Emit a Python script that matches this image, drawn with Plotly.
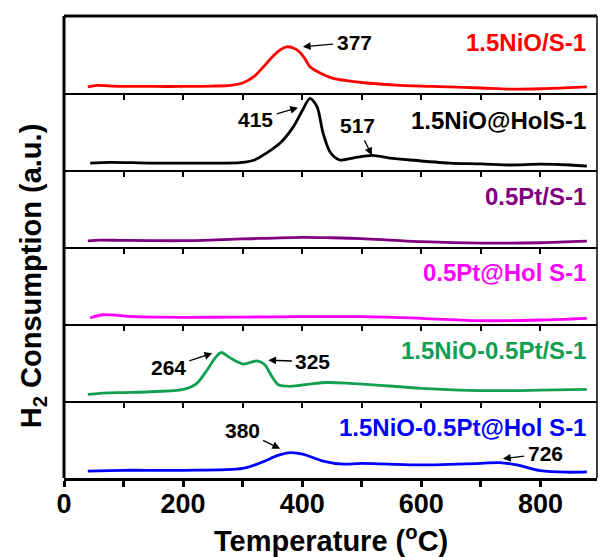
import plotly.graph_objects as go
from plotly.subplots import make_subplots

# ---------------- data ----------------
names = ["1.5NiO/S-1", "1.5NiO@HolS-1", "0.5Pt/S-1", "0.5Pt@Hol S-1",
         "1.5NiO-0.5Pt/S-1", "1.5NiO-0.5Pt@Hol S-1"]
colors = ["#ff0000", "#000000", "#800080", "#ff00ff", "#12a050", "#0000ff"]

t_nio_s1 = [40, 55, 80, 150, 200, 250, 280, 300, 320, 335, 350, 363, 374, 385, 396, 405,
            413, 430, 452, 480, 508, 564, 648, 700, 749, 800, 850, 878]
v_nio_s1 = [0.08, 0.10, 0.09, 0.085, 0.085, 0.09, 0.10, 0.13, 0.22, 0.34, 0.47, 0.56, 0.60,
            0.585, 0.53, 0.44, 0.34, 0.26, 0.19, 0.155, 0.13, 0.10, 0.08, 0.065, 0.05, 0.055,
            0.07, 0.08]

t_nio_hol = [44, 77, 144, 200, 250, 296, 320, 340, 363, 385, 400, 413, 425, 435, 447, 463,
             485, 517, 547, 581, 648, 700, 749, 800, 850, 878]
v_nio_hol = [0.09, 0.10, 0.09, 0.09, 0.09, 0.095, 0.13, 0.22, 0.35, 0.56, 0.77, 0.93, 0.82,
             0.48, 0.23, 0.13, 0.155, 0.19, 0.155, 0.13, 0.09, 0.08, 0.065, 0.075, 0.065, 0.05]

t_pt_s1 = [40, 60, 100, 200, 300, 400, 450, 500, 550, 600, 700, 800, 878]
v_pt_s1 = [0.08, 0.09, 0.085, 0.082, 0.105, 0.126, 0.12, 0.11, 0.09, 0.07, 0.05, 0.055, 0.075]

t_pt_hol = [44, 66, 116, 200, 300, 396, 500, 600, 700, 800, 878]
v_pt_hol = [0.08, 0.12, 0.095, 0.087, 0.09, 0.095, 0.095, 0.074, 0.043, 0.052, 0.074]

t_nipt_s1 = [40, 60, 100, 144, 200, 223, 240, 254, 264, 279, 301, 324, 337, 349, 360, 380,
             413, 441, 480, 520, 600, 700, 800, 878]
v_nipt_s1 = [0.087, 0.10, 0.11, 0.12, 0.15, 0.23, 0.40, 0.56, 0.63, 0.56, 0.48, 0.52, 0.47,
             0.32, 0.21, 0.19, 0.22, 0.24, 0.23, 0.21, 0.165, 0.135, 0.14, 0.15]

t_nipt_hol = [40, 100, 200, 300, 334, 358, 380, 401, 435, 469, 500, 600, 700, 732, 760, 800,
              844, 878]
v_nipt_hol = [0.09, 0.10, 0.10, 0.125, 0.21, 0.29, 0.33, 0.31, 0.22, 0.18, 0.19, 0.17, 0.19,
              0.20, 0.17, 0.095, 0.075, 0.08]

temps = [t_nio_s1, t_nio_hol, t_pt_s1, t_pt_hol, t_nipt_s1, t_nipt_hol]
values = [v_nio_s1, v_nio_hol, v_pt_s1, v_pt_hol, v_nipt_s1, v_nipt_hol]

label_y = [0.65, 0.64, 0.66, 0.675, 0.66, 0.66]
peak_text = ["377", "415", "517", "264", "325", "380", "726"]
peak_panel = [1, 2, 2, 5, 5, 6, 6]
peak_tx = [487, 322, 492, 175, 418, 299, 808]
peak_ty = [0.66, 0.65, 0.58, 0.43, 0.51, 0.62, 0.32]
arrow_head_x = [401, 393, 517, 249, 343, 363, 737]
arrow_head_y = [0.60, 0.81, 0.19, 0.62, 0.53, 0.38, 0.25]

major_ticks = [0, 200, 400, 600, 800]
tick_labels = ["0", "200", "400", "600", "800"]
inner_ticks = [100, 200, 300, 400, 500, 600, 700, 800]

# ---------------- figure ----------------
FONT = "Liberation Sans, Arial, sans-serif"
n = len(names)
fig = make_subplots(rows=n, cols=1, shared_xaxes=True, vertical_spacing=0)

for i in range(n):
    fig.add_trace(go.Scatter(x=temps[i], y=values[i], mode="lines",
                             line=dict(color=colors[i], width=2.8, shape="spline", smoothing=0.8),
                             name=names[i], showlegend=False), row=i + 1, col=1)
    last = (i == n - 1)
    if last:
        fig.update_xaxes(range=[0, 895], showline=True, linecolor="black", linewidth=3,
                         ticks="outside", tickvals=major_ticks, ticktext=tick_labels,
                         ticklen=6, tickwidth=2.5, tickcolor="black",
                         minor=dict(ticks="outside", dtick=100, tick0=0, ticklen=6,
                                    tickwidth=2.5, tickcolor="black", showgrid=False),
                         showticklabels=True, showgrid=False, zeroline=False,
                         ticklabelstandoff=-6,
                         tickfont=dict(family=FONT, size=27, color="black", weight="bold"),
                         row=i + 1, col=1)
    else:
        fig.update_xaxes(range=[0, 895], showline=True, linecolor="black", linewidth=1.5,
                         ticks="outside", tickvals=inner_ticks, ticklen=5, tickwidth=1.5,
                         tickcolor="black", showticklabels=False, showgrid=False,
                         zeroline=False, row=i + 1, col=1)
    fig.update_yaxes(range=[0, 1], showline=False, showticklabels=False, ticks="",
                     showgrid=False, zeroline=False, row=i + 1, col=1)
    fig.add_annotation(x=880, y=label_y[i], xref=f"x{i+1}" if i else "x",
                       yref=f"y{i+1}" if i else "y", text=names[i], showarrow=False,
                       xanchor="right", yanchor="middle",
                       font=dict(family=FONT, size=24, color=colors[i], weight="bold"))

for k in range(len(peak_text)):
    p = peak_panel[k]
    xr = "x" if p == 1 else f"x{p}"
    yr = "y" if p == 1 else f"y{p}"
    fig.add_annotation(x=arrow_head_x[k], y=arrow_head_y[k], xref=xr, yref=yr,
                       ax=peak_tx[k], ay=peak_ty[k], axref=xr, ayref=yr,
                       text=peak_text[k], showarrow=True, arrowhead=2, arrowsize=1.2,
                       arrowwidth=1.3, arrowcolor="black", borderpad=3,
                       font=dict(family=FONT, size=21, color="black", weight="bold"))

# axis titles
fig.add_annotation(x=-0.058, y=0.437, xref="paper", yref="paper",
                   text="H<sub>2</sub> Consumption (a.u.)", textangle=-90, showarrow=False,
                   xanchor="center", yanchor="middle",
                   font=dict(family=FONT, size=29, color="black", weight="bold"))
fig.add_annotation(x=0.501, y=-0.133, xref="paper", yref="paper",
                   text="Temperature (<sup>o</sup>C)", showarrow=False,
                   xanchor="center", yanchor="middle",
                   font=dict(family=FONT, size=29, color="black", weight="bold"))

# frame
fig.add_shape(type="line", xref="paper", yref="paper", x0=0, x1=0, y0=0, y1=1,
              line=dict(color="black", width=3))
fig.add_shape(type="line", xref="paper", yref="paper", x0=0, x1=1, y0=1, y1=1,
              line=dict(color="black", width=3))
fig.add_shape(type="line", xref="paper", yref="paper", x0=1, x1=1, y0=0, y1=1,
              line=dict(color="black", width=1.5))

fig.update_layout(width=600, height=557, margin=dict(l=64, r=3, t=16, b=79),
                  plot_bgcolor="white", paper_bgcolor="white", showlegend=False)

fig.write_html("out.html", config={"displayModeBar": False},
               post_script="document.body.style.margin='0';document.body.style.padding='0';")
